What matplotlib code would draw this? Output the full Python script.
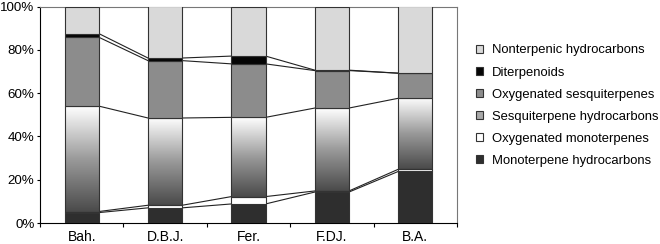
import numpy as np
import matplotlib
matplotlib.use("Agg")
import matplotlib.pyplot as plt
from matplotlib.patches import Patch
from matplotlib.colors import LinearSegmentedColormap

plt.rcParams['font.family'] = ['Liberation Sans', 'DejaVu Sans']

categories = ["Bah.", "D.B.J.", "Fer.", "F.DJ.", "B.A."]
series_names = ["Monoterpene hydrocarbons", "Oxygenated monoterpenes",
                "Sesquiterpene hydrocarbons", "Oxygenated sesquiterpenes",
                "Diterpenoids", "Nonterpenic hydrocarbons"]
mono_hc = [4.8, 7.0, 8.8, 14.3, 23.8]
oxy_mono = [0.5, 1.2, 3.4, 0.5, 1.0]
sesqui_hc = [48.7, 40.3, 36.6, 38.3, 32.8]
oxy_sesqui = [31.8, 26.5, 24.7, 17.3, 11.6]
diterp = [1.7, 1.2, 3.6, 0.2, 0.0]
nonterp = [12.5, 23.8, 22.9, 29.4, 30.8]
yticklabels = ["0%", "20%", "40%", "60%", "80%", "100%"]

series = [mono_hc, oxy_mono, sesqui_hc, oxy_sesqui, diterp, nonterp]
colors = ["#2e2e2e", "#ffffff", None, "#8c8c8c", "#050505", "#d9d9d9"]
legend_colors = ["#2e2e2e", "#ffffff", "#a8a8a8", "#8c8c8c", "#050505", "#d9d9d9"]

fig = plt.figure(figsize=(6.6, 2.44), dpi=100)
ax = fig.add_axes([40/660, 1-223/244, 417/660, 216.5/244])

x = np.arange(len(categories))
w = 0.41
data = np.array(series, dtype=float)
totals = data.sum(axis=0)
data = data / totals * 100
cum = np.zeros(len(categories))

grad_cmap = LinearSegmentedColormap.from_list("g", ["#4a4a4a", "#9a9a9a", "#ffffff"])
grad = np.linspace(0, 1, 256).reshape(-1, 1)

for i, vals in enumerate(data):
    if colors[i] is None:
        bars = ax.bar(x, vals, w, bottom=cum, facecolor="none", edgecolor="#333333", linewidth=0.8, zorder=3)
        for b in bars:
            bx, by = b.get_x(), b.get_y()
            bw, bh = b.get_width(), b.get_height()
            im = ax.imshow(grad, cmap=grad_cmap, aspect="auto", origin="lower",
                           extent=[bx, bx + bw, by, by + bh], zorder=2)
            im.set_clip_path(b)
    else:
        ax.bar(x, vals, w, bottom=cum, color=colors[i], edgecolor="#333333", linewidth=0.8, zorder=3)
    cum = cum + vals
    # series lines
    if i < len(data) - 1:
        for j in range(len(categories) - 1):
            ax.plot([x[j] + w/2, x[j+1] - w/2], [cum[j], cum[j+1]], color="#222222", lw=0.8, zorder=1)

ax.set_xlim(-0.5, len(categories) - 0.5)
ax.set_ylim(0, 100)
ax.set_yticks([0, 20, 40, 60, 80, 100])
ax.set_yticklabels(yticklabels, fontsize=9.6)
ax.set_xticks(x)
ax.set_xticklabels(categories, fontsize=10)
ax.tick_params(axis="x", length=0, pad=5)
ax.set_xticks(np.arange(-0.5, len(categories), 1), minor=True)
ax.tick_params(axis="x", which="minor", length=3, direction="out", color="black", width=0.8)
ax.tick_params(axis="y", length=2.5, direction="out", width=0.8, pad=1.5)
for s in ["top", "right"]:
    ax.spines[s].set_color("#777777")
    ax.spines[s].set_linewidth(0.8)
for s in ["left", "bottom"]:
    ax.spines[s].set_color("black")
    ax.spines[s].set_linewidth(0.8)

handles = [Patch(facecolor=legend_colors[i], edgecolor="#333333", linewidth=0.8, label=series_names[i])
           for i in range(len(series_names))][::-1]
fig.legend(handles=handles, loc="upper left", bbox_to_anchor=(476/660, 1 - 44.5/244),
           frameon=False, fontsize=9.4, handlelength=0.53, handleheight=0.53,
           handletextpad=0.7, labelspacing=0.77, borderaxespad=0, borderpad=0)

fig.savefig("out.png", dpi=100)
